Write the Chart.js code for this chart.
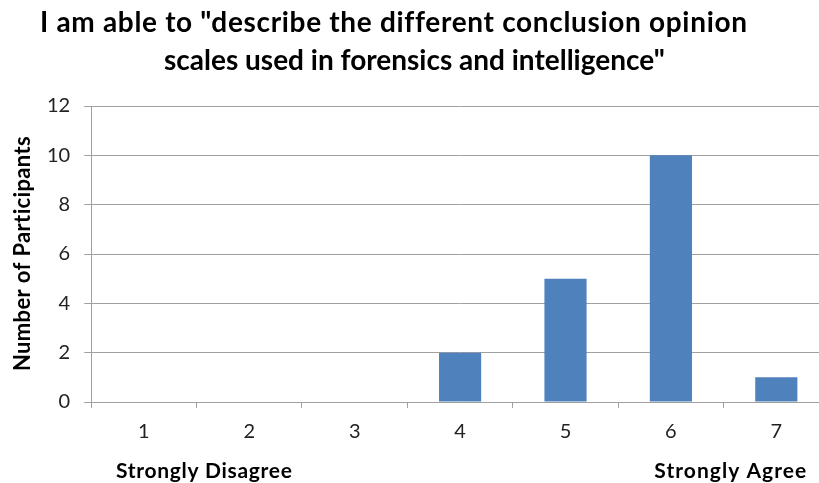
<!DOCTYPE html>
<html>
<head>
<meta charset="utf-8">
<script src="https://cdn.jsdelivr.net/npm/chart.js@4/dist/chart.umd.min.js"></script>
<style>
  html, body { margin: 0; padding: 0; background: #fff; overflow: hidden; }
  #wrap { width: 819px; height: 483px; overflow: hidden; }
</style>
</head>
<body>
<div id="wrap"><canvas id="likertChart" width="835" height="483"></canvas></div>
<script>
const scalePoints = ["1", "2", "3", "4", "5", "6", "7"];
const participants = [0, 0, 0, 2, 5, 10, 1];
const yTicks = [0, 2, 4, 6, 8, 10, 12];
const titleLines = [
  "I am able to \"describe the different conclusion opinion",
  "scales used in forensics and intelligence\"",
];
const yAxisLabel = "Number of Participants";
const endLabels = ["Strongly Disagree", "Strongly Agree"];

const FONT = "Lato, 'Open Sans', sans-serif";

// draw text stretched to a given width with a little letter spacing
function spacedText(ctx, text, x, y, width) {
  ctx.letterSpacing = "0px";
  const w = ctx.measureText(text).width;
  const gap = Math.max(0, (width - w) / Math.max(1, text.length - 1));
  ctx.letterSpacing = gap + "px";
  ctx.fillText(text, x, y);
  ctx.letterSpacing = "0px";
}

const textPlugin = {
  id: "textPlugin",
  afterDraw(chart) {
    const ctx = chart.ctx;
    const x = chart.scales.x;
    const area = chart.chartArea;
    ctx.save();
    ctx.fillStyle = "#000";
    ctx.textBaseline = "alphabetic";
    ctx.textAlign = "left";

    ctx.font = `bold 28px ${FONT}`;
    spacedText(ctx, titleLines[0], 40, 32, 706);
    spacedText(ctx, titleLines[1], 164, 70, 500);

    ctx.font = `bold 21px ${FONT}`;
    spacedText(ctx, endLabels[0], x.getPixelForValue(0) - 28, 478, 176);
    spacedText(ctx, endLabels[1], x.getPixelForValue(6) - 122, 478, 152);

    // rotated y axis title
    ctx.save();
    ctx.translate(30, (area.top + area.bottom) / 2);
    ctx.rotate(-Math.PI / 2);
    ctx.font = `bold 22px ${FONT}`;
    spacedText(ctx, yAxisLabel, -117, 0, 235);
    ctx.restore();

    ctx.restore();
  },
};

const ctx = document.getElementById("likertChart").getContext("2d");
new Chart(ctx, {
  type: "bar",
  data: {
    labels: scalePoints,
    datasets: [
      {
        label: "Participants",
        data: participants,
        backgroundColor: "#4f81bd",
        borderWidth: 0,
        categoryPercentage: 1,
        barPercentage: 0.4,
      },
    ],
  },
  options: {
    responsive: false,
    animation: false,
    layout: { padding: { top: 106, left: 33, right: 6, bottom: 27 } },
    plugins: {
      legend: { display: false },
      tooltip: { enabled: false },
    },
    scales: {
      x: {
        grid: {
          offset: true,
          drawOnChartArea: false,
          drawTicks: true,
          tickLength: 6,
          color: "#a0a0a0",
        },
        border: { color: "#a0a0a0" },
        ticks: {
          color: "#222",
          padding: 12,
          font: { family: FONT, size: 20 },
        },
      },
      y: {
        min: 0,
        max: 12,
        afterBuildTicks: (axis) => {
          axis.ticks = yTicks.map((v) => ({ value: v }));
        },
        grid: { color: "#a0a0a0", tickLength: 7 },
        border: { color: "#a0a0a0" },
        ticks: {
          color: "#222",
          padding: 14,
          font: { family: FONT, size: 20 },
        },
      },
    },
  },
  plugins: [textPlugin],
});
</script>
</body>
</html>
